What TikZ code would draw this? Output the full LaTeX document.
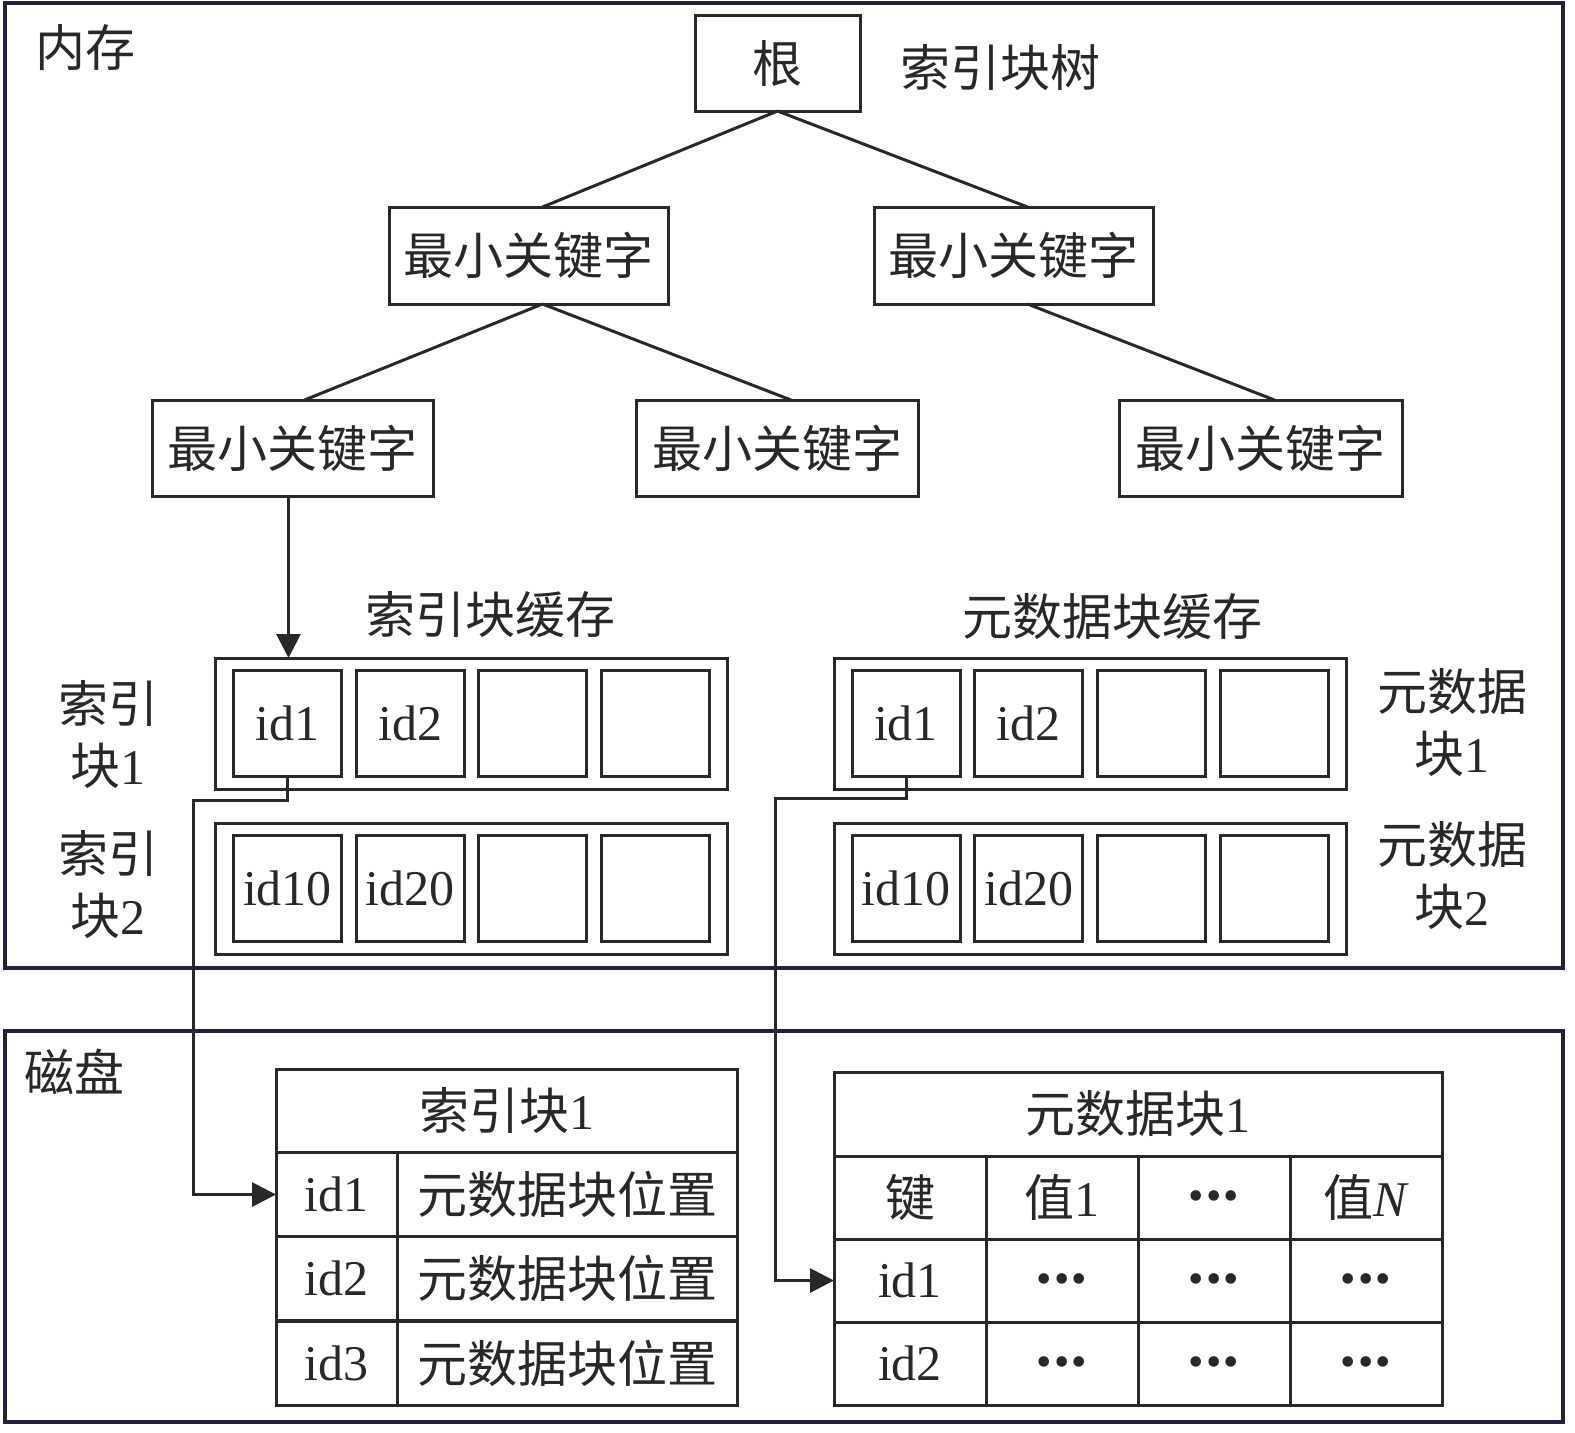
\documentclass[tikz,border=0pt]{standalone}
\usepackage{fontspec}
\setmainfont{Liberation Serif}
\newfontfamily\cjk{Noto Sans CJK SC}
\usepackage{tikz}
\usetikzlibrary{arrows.meta,calc,positioning}
\definecolor{framenavy}{RGB}{32,34,62}
\definecolor{inkgray}{RGB}{40,40,40}
\newcommand{\dotsrow}{\raisebox{-6.5pt}[0pt][0pt]{\fontsize{22}{22}\selectfont •\kern1pt•\kern1pt•}}
\tikzset{
	memory diagram/.style={
		x=0.5pt, y=-0.5pt,
		font=\fontsize{25}{31}\selectfont,
		every node/.style={inner sep=0pt, outer sep=0pt, text=inkgray},
		},
	bx/.style 2 args={draw=inkgray, line width=1.5pt,
		minimum width=#1*0.5pt, minimum height=#2*0.5pt},
	region/.style 2 args={draw=framenavy, line width=2pt,
		minimum width=#1*0.5pt, minimum height=#2*0.5pt},
	cachebox/.style={bx={512}{131}},
	cell/.style={bx={108}{106}},
	tree/.style={draw=inkgray, line width=1.5pt},
	ar/.style={draw=inkgray, line width=1.5pt, -{Triangle[length=12pt,width=12pt]}},
	side/.style={align=center}
}

\begin{document}
\begin{tikzpicture}[memory diagram]
   \useasboundingbox (0,0) rectangle (1575,1432);
   % the two regions
   \node[region={1558}{965}] (mem) at (784,485.5) {};
   \node[region={1558}{391}] (disk) at (784,1226.5) {};
   \node (memlabel) at (85,48) {\cjk 内存};
   \node (disklabel) at (75,1072) {\cjk 磁盘};
   % index block tree
   \node[bx={165}{96}] (root) at (777.5,63) {\cjk 根};
   \node (treelabel) at (1000,68) {\cjk 索引块树};
   \node[bx={279}{97}] (l1a) at (528.5,255.5) {\cjk 最小关键字};
   \node[bx={279}{97}] (l1b) at (1013.5,255.5) {\cjk 最小关键字};
   \node[bx={281}{96}] (l2a) at (292.5,448) {\cjk 最小关键字};
   \node[bx={282}{96}] (l2b) at (777,448) {\cjk 最小关键字};
   \node[bx={283}{96}] (l2c) at (1260.5,448) {\cjk 最小关键字};
   \draw[tree] (root.south) -- ([xshift=7pt]l1a.north);
   \draw[tree] (root.south) -- ([xshift=7pt]l1b.north);
   \draw[tree] ([xshift=7pt]l1a.south) -- ([xshift=6pt]l2a.north);
   \draw[tree] ([xshift=7pt]l1a.south) -- ([xshift=7pt]l2b.north);
   \draw[tree] ([xshift=7pt]l1b.south) -- ([xshift=7pt]l2c.north);
   % caches
   \node (iclabel) at (490,615) {\cjk 索引块缓存};
   \node (mclabel) at (1112,617) {\cjk 元数据块缓存};
   \foreach \r/\y/\ta/\tb in {1/723.5/id1/id2, 2/888.5/id10/id20} {
      \node[cachebox] (ic\r) at (471,\y) {};
      \node[cachebox] (mc\r) at (1090,\y) {};
      \foreach \i/\t in {1/\ta, 2/\tb, 3/{}, 4/{}} {
         \node[cell] (ic\r-\i) at ({287.5+122.7*(\i-1)},\y) {\t};
         \node[cell] (mc\r-\i) at ({906+122.7*(\i-1)},\y) {\t};
      }
   }
   \node[side] (icside1) at (108,735) {\cjk 索引\\{\cjk 块}1};
   \node[side] (icside2) at (108,885) {\cjk 索引\\{\cjk 块}2};
   \node[side] (mcside1) at (1452,723) {\cjk 元数据\\{\cjk 块}1};
   \node[side] (mcside2) at (1452,876) {\cjk 元数据\\{\cjk 块}2};
   \draw[ar] ([xshift=-2pt]l2a.south) -- ([xshift=-2pt]l2a.south |- ic1.north);
   % index block on disk
   \node[bx={461}{83}] (ith) at (506.5,1110.5) {{\cjk 索引块}1};
   \foreach \r/\t in {1/id1, 2/id2, 3/id3} {
      \node[bx={121}{84}] (it\r) at (336.5,{1194.5+84.25*(\r-1)}) {\t};
      \node[bx={340}{84}] (itv\r) at (567,{1194.5+84.25*(\r-1)}) {\cjk 元数据块位置};
   }
   % metadata block on disk
   \node[bx={608}{84}] (mth) at (1138,1114) {{\cjk 元数据块}1};
   \foreach \r/\ta/\tb/\tc/\td in {1/{\cjk 键}/{{\cjk 值}1}/\dotsrow/{{\cjk 值}\textit{N}},
         2/id1/\dotsrow/\dotsrow/\dotsrow, 3/id2/\dotsrow/\dotsrow/\dotsrow} {
      \foreach \c/\t in {1/\ta, 2/\tb, 3/\tc, 4/\td}
         \node[bx={152}{83}] (mt\r-\c) at ({910+152*(\c-1)},{1197.5+83*(\r-1)}) {\t};
   }
   % links from cache to disk
   \coordinate (kinkA) at (193,800);
   \coordinate (kinkB) at (775,798);
   \draw[ar] (ic1-1.south) |- (kinkA) |- (it1.west);
   \draw[ar] (mc1-1.south) |- (kinkB) |- (mt2-1.west);
\end{tikzpicture}
\end{document}
